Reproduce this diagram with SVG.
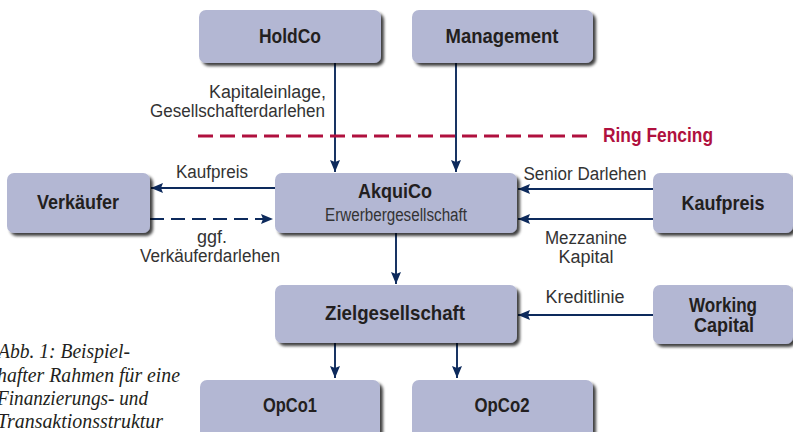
<svg xmlns="http://www.w3.org/2000/svg" width="793" height="432" viewBox="0 0 793 432">
<defs>
<filter id="sh" x="-10%" y="-10%" width="130%" height="140%">
<feGaussianBlur in="SourceAlpha" stdDeviation="1.6"/>
<feOffset dx="3" dy="3" result="b"/>
<feComponentTransfer><feFuncA type="linear" slope="0.75"/></feComponentTransfer>
<feMerge><feMergeNode/><feMergeNode in="SourceGraphic"/></feMerge>
</filter>
<marker id="ah" viewBox="0 0 12 10" refX="12" refY="5" markerWidth="12" markerHeight="10" markerUnits="userSpaceOnUse" orient="auto">
<path d="M0,0 L12,5 L0,10 L2,5 Z" fill="#0d2a5c"/>
</marker>
</defs>
<style>
.box{fill:#b3b7d3;filter:url(#sh)}
.t{font-family:"Liberation Sans",Arial,sans-serif;font-weight:bold;font-size:21px;fill:#231f20;text-anchor:middle}
.l{font-family:"Liberation Sans",Arial,sans-serif;font-size:18px;fill:#333;text-anchor:middle}
.r{text-anchor:end}
.c{fill:none;stroke:#0d2a5c;stroke-width:1.9;marker-end:url(#ah)}
.cap{font-family:"Liberation Serif",serif;font-style:italic;font-size:21px;fill:#231f20}
</style>
<rect x="0" y="0" width="793" height="432" fill="#fff"/>
<g id="connectors">
<path class="c" d="M335,63 V172"/>
<path class="c" d="M456,63 V172"/>
<path class="c" d="M275,188 H151"/>
<path class="c" d="M150,219 H273" stroke-dasharray="14,7"/>
<path class="c" d="M653,189 H518"/>
<path class="c" d="M653,219 H518"/>
<path class="c" d="M396,233 V284"/>
<path class="c" d="M653,315 H518"/>
<path class="c" d="M335,343 V378"/>
<path class="c" d="M457,343 V378"/>
<path d="M198,136 H592" stroke="#b0103e" stroke-width="3" stroke-dasharray="15,7" fill="none"/>
</g>
<g id="ringfencing"><text x="603" y="142" textLength="110" lengthAdjust="spacingAndGlyphs" style="font-family:'Liberation Sans',Arial,sans-serif;font-weight:bold;font-size:21px;fill:#b0103e">Ring Fencing</text></g>
<g id="holdco"><rect class="box" x="199" y="10" width="182" height="53" rx="7"/><text class="t" x="290" y="43" textLength="62" lengthAdjust="spacingAndGlyphs">HoldCo</text></g>
<g id="management"><rect class="box" x="412" y="10" width="181" height="53" rx="7"/><text class="t" x="502" y="43" textLength="113" lengthAdjust="spacingAndGlyphs">Management</text></g>
<g id="verkaeufer"><rect class="box" x="7" y="173" width="143" height="60" rx="7"/><text class="t" x="78" y="209" textLength="82" lengthAdjust="spacingAndGlyphs">Verkäufer</text></g>
<g id="akquico"><rect class="box" x="275" y="173" width="242" height="60" rx="7"/><text class="t" x="395" y="198" textLength="74" lengthAdjust="spacingAndGlyphs">AkquiCo</text><text class="l" x="396" y="221" textLength="142" lengthAdjust="spacingAndGlyphs">Erwerbergesellschaft</text></g>
<g id="kaufpreis"><rect class="box" x="653" y="173" width="140" height="60" rx="7"/><text class="t" x="723" y="210" textLength="83" lengthAdjust="spacingAndGlyphs">Kaufpreis</text></g>
<g id="zielgesellschaft"><rect class="box" x="275" y="285" width="242" height="58" rx="7"/><text class="t" x="395" y="320" textLength="140" lengthAdjust="spacingAndGlyphs">Zielgesellschaft</text></g>
<g id="workingcapital"><rect class="box" x="653" y="285" width="140" height="59" rx="7"/><text class="t" x="723" y="312" textLength="68" lengthAdjust="spacingAndGlyphs">Working</text><text class="t" x="724" y="332" textLength="60" lengthAdjust="spacingAndGlyphs">Capital</text></g>
<g id="opco1"><rect class="box" x="200" y="380" width="180" height="60" rx="7"/><text class="t" x="290" y="412" textLength="54" lengthAdjust="spacingAndGlyphs">OpCo1</text></g>
<g id="opco2"><rect class="box" x="412" y="380" width="181" height="60" rx="7"/><text class="t" x="502" y="412" textLength="55" lengthAdjust="spacingAndGlyphs">OpCo2</text></g>
<g id="labels">
<text class="l r" x="326" y="98" textLength="117" lengthAdjust="spacingAndGlyphs">Kapitaleinlage,</text>
<text class="l r" x="325" y="117" textLength="175" lengthAdjust="spacingAndGlyphs">Gesellschafterdarlehen</text>
<text class="l" x="212" y="178" textLength="72" lengthAdjust="spacingAndGlyphs">Kaufpreis</text>
<text class="l" x="212" y="243" textLength="30" lengthAdjust="spacingAndGlyphs">ggf.</text>
<text class="l" x="210" y="262" textLength="140" lengthAdjust="spacingAndGlyphs">Verkäuferdarlehen</text>
<text class="l" x="585" y="180" textLength="123" lengthAdjust="spacingAndGlyphs">Senior Darlehen</text>
<text class="l" x="586" y="244" textLength="82" lengthAdjust="spacingAndGlyphs">Mezzanine</text>
<text class="l" x="586" y="263" textLength="55" lengthAdjust="spacingAndGlyphs">Kapital</text>
<text class="l" x="585" y="303" textLength="79" lengthAdjust="spacingAndGlyphs">Kreditlinie</text>
</g>
<g id="caption">
<text class="cap" x="-2" y="358" textLength="132" lengthAdjust="spacingAndGlyphs">Abb. 1: Beispiel-</text>
<text class="cap" x="-3" y="382" textLength="183" lengthAdjust="spacingAndGlyphs">hafter Rahmen für eine</text>
<text class="cap" x="-3" y="405" textLength="151" lengthAdjust="spacingAndGlyphs">Finanzierungs- und</text>
<text class="cap" x="-3" y="428" textLength="166" lengthAdjust="spacingAndGlyphs">Transaktionsstruktur</text>
</g>
</svg>
